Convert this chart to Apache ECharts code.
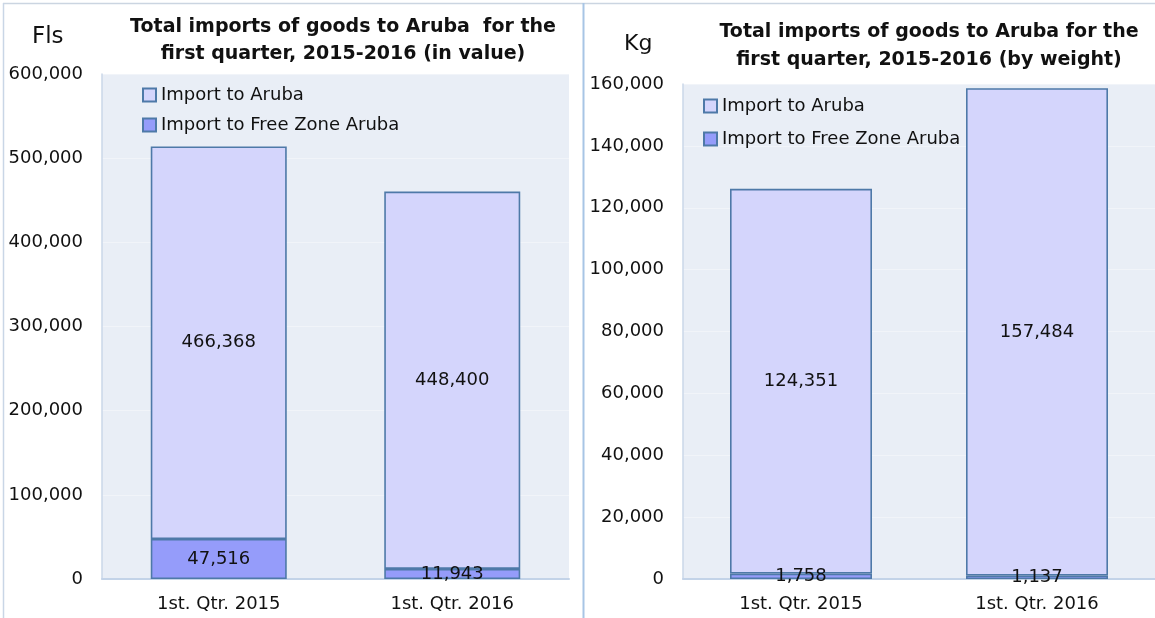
<!DOCTYPE html>
<html>
<head>
<meta charset="utf-8">
<script src="https://cdn.jsdelivr.net/npm/echarts@6/dist/echarts.min.js"></script>
<style>
  html, body { margin: 0; padding: 0; background: #fff; }
  #main { width: 1155px; height: 618px; }
</style>
</head>
<body>
<div id="main"></div>
<script>
// data
const categories = ['1st. Qtr. 2015', '1st. Qtr. 2016'];
const seriesNames = ['Import to Aruba', 'Import to Free Zone Aruba'];
const valueAruba = [466368, 448400];
const valueFreeZone = [47516, 11943];
const weightAruba = [124351, 157484];
const weightFreeZone = [1758, 1137];
const valueAxis = { max: 600000, interval: 100000 };
const weightAxis = { max: 160000, interval: 20000 };

const FONT = 'DejaVu Sans';
const fmt = v => Number(v).toLocaleString('en-US');

const colorAruba = '#D4D5FC';
const colorFreeZone = '#959CFA';
const barBorder = '#4E79A8';

function barSeries (name, data, idx, color, width) {
    return {
        name: name,
        type: 'bar',
        stack: 'total' + idx,
        xAxisIndex: idx,
        yAxisIndex: idx,
        barWidth: width,
        data: data,
        itemStyle: { color: color, borderColor: barBorder, borderWidth: 1.6 },
        label: {
            show: true,
            position: 'inside',
            formatter: p => fmt(p.value),
            color: '#111',
            fontFamily: FONT,
            fontSize: 18
        }
    };
}

function yAxis (idx, cfg) {
    return {
        type: 'value',
        gridIndex: idx,
        min: 0,
        max: cfg.max,
        interval: cfg.interval,
        axisLine: { show: true, lineStyle: { color: '#CAD7E8', width: 1.5 } },
        axisTick: { show: false },
        axisLabel: { margin: 19, formatter: fmt, color: '#111', fontFamily: FONT, fontSize: 18 },
        splitLine: { lineStyle: { color: '#F1F4F9', width: 1 } }
    };
}

function xAxis (idx) {
    return {
        type: 'category',
        gridIndex: idx,
        data: categories,
        axisLine: { lineStyle: { color: '#C3D3E8', width: 2 } },
        axisTick: { show: false },
        axisLabel: { margin: 16, color: '#111', fontFamily: FONT, fontSize: 18 }
    };
}

function legend (left, top, gap) {
    return {
        data: seriesNames,
        icon: 'rect',
        orient: 'vertical',
        left: left,
        top: top,
        itemWidth: 13,
        itemHeight: 13,
        itemGap: gap,
        textStyle: { color: '#111', fontFamily: FONT, fontSize: 18 }
    };
}

const chart = echarts.init(document.getElementById('main'));
chart.setOption({
    animation: false,
    title: [
        {
            text: 'Total imports of goods to Aruba  for the\nfirst quarter, 2015-2016 (in value)',
            left: 338, top: 9, textAlign: 'center',
            textStyle: { fontFamily: FONT, fontSize: 19, fontWeight: 'bold', color: '#111', lineHeight: 27 }
        },
        {
            text: 'Total imports of goods to Aruba for the\nfirst quarter, 2015-2016 (by weight)',
            left: 924, top: 13, textAlign: 'center',
            textStyle: { fontFamily: FONT, fontSize: 19, fontWeight: 'bold', color: '#111', lineHeight: 28 }
        },
        { text: 'Fls', left: 27, top: 21, textStyle: { fontFamily: FONT, fontSize: 23, fontWeight: 'normal', color: '#111' } },
        { text: 'Kg', left: 619, top: 28, textStyle: { fontFamily: FONT, fontSize: 22, fontWeight: 'normal', color: '#111' } }
    ],
    legend: [legend(137, 81, 12), legend(698, 92, 15)],
    grid: [
        { left: 102, top: 74, width: 467, height: 505, show: true, backgroundColor: '#E9EEF6', borderWidth: 0 },
        { left: 683, top: 84, width: 484, height: 495, show: true, backgroundColor: '#E9EEF6', borderWidth: 0 }
    ],
    xAxis: [xAxis(0), xAxis(1)],
    yAxis: [yAxis(0, valueAxis), yAxis(1, weightAxis)],
    series: [
        barSeries(seriesNames[1], valueFreeZone, 0, colorFreeZone, 136),
        barSeries(seriesNames[0], valueAruba, 0, colorAruba, 136),
        barSeries(seriesNames[1], weightFreeZone, 1, colorFreeZone, 142),
        barSeries(seriesNames[0], weightAruba, 1, colorAruba, 142)
    ],
    graphic: [
        // frame lines of the two chart boxes
        { type: 'line', shape: { x1: 3, y1: 3.5, x2: 1155, y2: 3.5 }, style: { stroke: '#CBD5E1', lineWidth: 1.5 }, silent: true },
        { type: 'line', shape: { x1: 3.5, y1: 3, x2: 3.5, y2: 618 }, style: { stroke: '#C9D6E6', lineWidth: 1.5 }, silent: true },
        { type: 'line', shape: { x1: 583.5, y1: 3, x2: 583.5, y2: 618 }, style: { stroke: '#A8C5E5', lineWidth: 2 }, silent: true }
    ]
});
</script>
</body>
</html>
